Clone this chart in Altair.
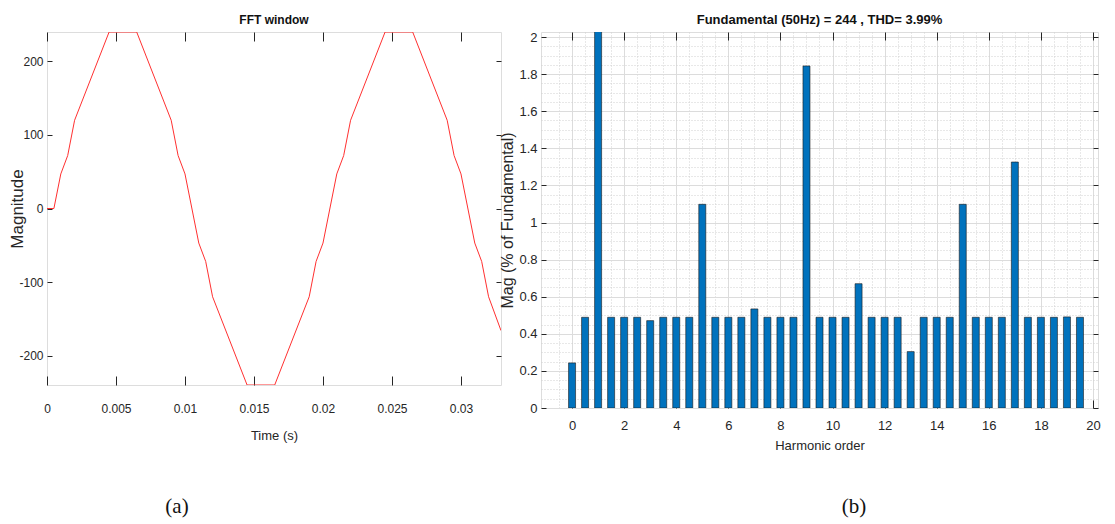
import altair as alt
import pandas as pd

# ---------------- data ----------------
t_vals = [0, 0.0005, 0.001, 0.0015, 0.002, 0.0045, 0.0065, 0.009, 0.0095, 0.01,
          0.011, 0.0115, 0.012, 0.0145, 0.0165, 0.019, 0.0195, 0.02, 0.021, 0.0215,
          0.022, 0.0245, 0.0265, 0.029, 0.0295, 0.03, 0.031, 0.0315, 0.032, 0.0329]
v_vals = [0, 0, 47, 72, 120, 240, 240, 120, 72, 47,
          -47, -72, -120, -240, -240, -120, -72, -47, 47, 72,
          120, 240, 240, 120, 72, 47, -47, -72, -120, -166]

orders = [0, 0.5, 1, 1.5, 2, 2.5, 3, 3.5, 4, 4.5, 5, 5.5, 6, 6.5, 7, 7.5, 8, 8.5, 9, 9.5,
          10, 10.5, 11, 11.5, 12, 12.5, 13, 13.5, 14, 14.5, 15, 15.5, 16, 16.5, 17, 17.5,
          18, 18.5, 19, 19.5]
mags = [0.243, 0.489, 100, 0.489, 0.489, 0.489, 0.471, 0.489, 0.489, 0.489,
        1.098, 0.489, 0.489, 0.489, 0.534, 0.489, 0.489, 0.489, 1.844, 0.489,
        0.489, 0.489, 0.670, 0.489, 0.489, 0.489, 0.304, 0.489, 0.489, 0.489,
        1.098, 0.489, 0.489, 0.489, 1.326, 0.489, 0.489, 0.489, 0.491, 0.489]

time_ticks = [0, 0.005, 0.01, 0.015, 0.02, 0.025, 0.03]
mag_ticks = [-200, -100, 0, 100, 200]
harm_ticks = [0, 2, 4, 6, 8, 10, 12, 14, 16, 18, 20]
pct_ticks = [0, 0.2, 0.4, 0.6, 0.8, 1, 1.2, 1.4, 1.6, 1.8, 2]
harm_minor = [-0.5, 0.5, 1, 1.5, 2.5, 3, 3.5, 4.5, 5, 5.5, 6.5, 7, 7.5, 8.5, 9, 9.5,
              10.5, 11, 11.5, 12.5, 13, 13.5, 14.5, 15, 15.5, 16.5, 17, 17.5, 18.5, 19, 19.5]
pct_minor = [0.05, 0.1, 0.15, 0.25, 0.3, 0.35, 0.45, 0.5, 0.55, 0.65, 0.7, 0.75,
             0.85, 0.9, 0.95, 1.05, 1.1, 1.15, 1.25, 1.3, 1.35, 1.45, 1.5, 1.55,
             1.65, 1.7, 1.75, 1.85, 1.9, 1.95]

title_a = "FFT window"
title_b = "Fundamental (50Hz) = 244 , THD= 3.99%"
panel_labels = ["(a)", "(b)"]

SANS = "Liberation Sans, Arial, sans-serif"
SERIF = "Liberation Serif, Times New Roman, serif"
DARK = "#262626"
MINUS_FIX = "replace(datum.label, '\u2212', '-')"

wave = pd.DataFrame({"t": t_vals, "v": v_vals})
harm = pd.DataFrame({"order": orders, "mag": mags})

# ---------------- left panel ----------------
WL, HL = 454, 353
xs_l = alt.Scale(domain=[0, 0.0329], nice=False, zero=False)
ys_l = alt.Scale(domain=[-240, 240], nice=False, zero=False)

def tick_axis(orient, values, size):
    return alt.Axis(orient=orient, values=values, labels=False, title=None, domain=False,
                    grid=False, ticks=True, tickSize=size, offset=-size, tickColor=DARK)

line = alt.Chart(wave).mark_line(color="#ff3030", strokeWidth=1, clip=True).encode(
    x=alt.X("t:Q", scale=xs_l, axis=alt.Axis(
        orient="bottom", values=time_ticks, format="~g", title="Time (s)", domain=False,
        grid=False, tickSize=9, offset=-9, tickColor=DARK, labelPadding=18,
        labelFlush=False,
        labelFont=SANS, labelFontSize=12, labelColor=DARK,
        titleFont=SANS, titleFontSize=13, titleFontWeight="normal", titleColor=DARK,
        titleX=WL / 2, titleY=59, titleBaseline="middle", titleAlign="center")),
    y=alt.Y("v:Q", scale=ys_l, axis=alt.Axis(
        orient="left", values=mag_ticks, title="Magnitude", domain=False, grid=False,
        tickSize=5, offset=-5, tickColor=DARK, labelPadding=4, labelExpr=MINUS_FIX,
        labelFont=SANS, labelFontSize=12, labelColor=DARK,
        titleFont=SANS, titleFontSize=17, titleFontWeight="normal", titleColor=DARK,
        titleX=-34.5, titleY=HL / 2, titleAngle=270, titleBaseline="middle",
        titleAlign="center")),
)
mirror_l = alt.Chart(wave).mark_line(opacity=0, clip=True).encode(
    x=alt.X("t:Q", scale=xs_l, axis=tick_axis("top", time_ticks, 9)),
    y=alt.Y("v:Q", scale=ys_l, axis=tick_axis("right", mag_ticks, 5)),
)
lab_a = alt.Chart(pd.DataFrame({"lab": [panel_labels[0]]})).mark_text(
    font=SERIF, fontSize=21, color="#111111", baseline="middle", align="center"
).encode(text="lab:N", x=alt.value(130), y=alt.value(475))

left = alt.layer(line, mirror_l, lab_a).resolve_axis(x="independent", y="independent").properties(
    width=WL, height=HL,
    title=alt.TitleParams(title_a, font=SANS, fontSize=12, fontWeight="bold",
                          color="#111111", offset=5, anchor="middle"))

# ---------------- right panel ----------------
WR, HR = 557, 376
xs_r = alt.Scale(domain=[-1, 20], nice=False, zero=False)
ys_r = alt.Scale(domain=[0, 2.027], nice=False, zero=False)

def grid_axis(orient, values, dash, color):
    return alt.Axis(orient=orient, values=values, labels=False, title=None, domain=False,
                    ticks=False, grid=True, gridColor=color, gridDash=dash, gridWidth=1)

grid_min = alt.Chart(harm).mark_bar(opacity=0, clip=True).encode(
    x=alt.X("order:Q", scale=xs_r, axis=grid_axis("bottom", harm_minor, [1, 2], "#d0d0d0")),
    y=alt.Y("mag:Q", scale=ys_r, axis=grid_axis("left", pct_minor, [1, 2], "#d0d0d0")),
)
grid_maj = alt.Chart(harm).mark_bar(opacity=0, clip=True).encode(
    x=alt.X("order:Q", scale=xs_r, axis=grid_axis("bottom", harm_ticks, [], "#dcdcdc")),
    y=alt.Y("mag:Q", scale=ys_r, axis=grid_axis("left", pct_ticks, [], "#dcdcdc")),
)
bars = alt.Chart(harm).mark_bar(size=7, color="#0072BD", stroke="#1a1a1a",
                                strokeWidth=0.6, clip=True).encode(
    x=alt.X("order:Q", scale=xs_r, axis=alt.Axis(
        orient="bottom", values=harm_ticks, title="Harmonic order", domain=False, grid=False,
        tickSize=8, offset=-8, tickColor=DARK, labelPadding=11, labelFlush=False,
        labelFont=SANS, labelFontSize=13, labelColor=DARK,
        titleFont=SANS, titleFontSize=13, titleFontWeight="normal", titleColor=DARK,
        titleX=WR / 2, titleY=45.7, titleBaseline="middle", titleAlign="center")),
    y=alt.Y("mag:Q", scale=ys_r, axis=alt.Axis(
        orient="left", values=pct_ticks, format="~g", title="Mag (% of Fundamental)",
        domain=False, grid=False, tickSize=5, offset=-5, tickColor=DARK, labelPadding=4,
        labelFont=SANS, labelFontSize=13, labelColor=DARK,
        titleFont=SANS, titleFontSize=16, titleFontWeight="normal", titleColor=DARK,
        titleX=-38.4, titleY=HR / 2, titleAngle=270, titleBaseline="middle",
        titleAlign="center")),
)
mirror_r = alt.Chart(harm).mark_bar(opacity=0, clip=True).encode(
    x=alt.X("order:Q", scale=xs_r, axis=tick_axis("top", harm_ticks, 8)),
    y=alt.Y("mag:Q", scale=ys_r, axis=tick_axis("right", pct_ticks, 5)),
)
lab_b = alt.Chart(pd.DataFrame({"lab": [panel_labels[1]]})).mark_text(
    font=SERIF, fontSize=21, color="#111111", baseline="middle", align="center"
).encode(text="lab:N", x=alt.value(313), y=alt.value(475))

right = alt.layer(grid_min, grid_maj, bars, mirror_r, lab_b).resolve_axis(
    x="independent", y="independent").properties(
    width=WR, height=HR,
    title=alt.TitleParams(title_b, font=SANS, fontSize=13, fontWeight="bold",
                          color="#111111", offset=4, anchor="middle"))

chart = alt.hconcat(left, right, spacing=40, bounds="flush").properties(
    padding={"left": 0, "top": 5, "right": 0, "bottom": 0}
).configure_view(stroke=DARK, strokeWidth=1).configure(background="white")

chart.save("out.html", embed_options={"renderer": "svg", "actions": False})
